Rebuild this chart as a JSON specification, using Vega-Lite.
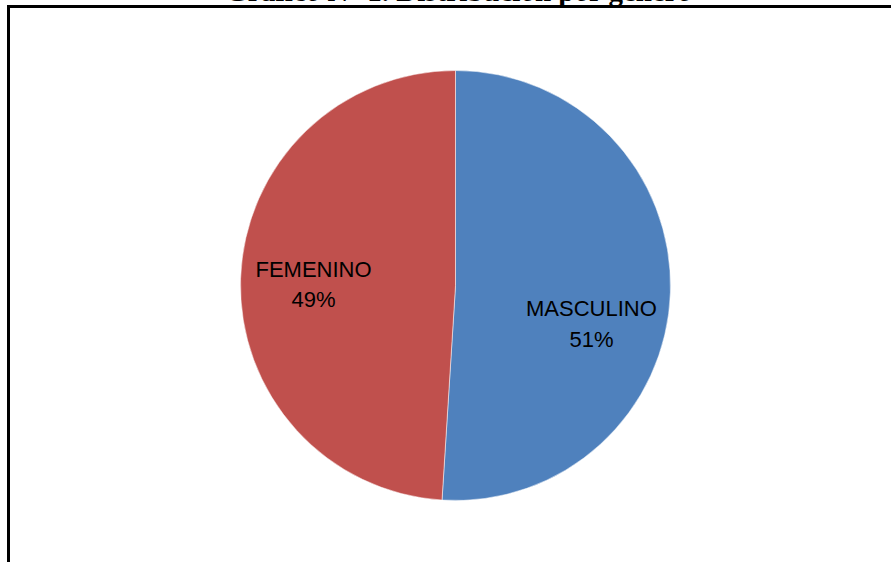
{
  "$schema": "https://vega.github.io/schema/vega-lite/v6.json",
  "autosize": {"type": "none"},
  "width": 894,
  "height": 558,
  "padding": {"left": 8.5, "top": 6.5, "right": 0, "bottom": 0},
  "background": "white",
  "title": {
    "text": "Gráfico N° 1. Distribución por género",
    "font": "Liberation Serif",
    "fontSize": 29,
    "fontWeight": "bold",
    "color": "black",
    "anchor": "middle",
    "baseline": "alphabetic",
    "offset": -23,
    "dx": 3,
    "zindex": 1
  },
  "view": {"stroke": "black", "strokeWidth": 3},
  "data": {
    "values": [
      {"genero": "MASCULINO", "porcentaje": 51, "etiqueta": "MASCULINO\n51%", "orden": 1},
      {"genero": "FEMENINO", "porcentaje": 49, "etiqueta": "FEMENINO\n49%", "orden": 2}
    ]
  },
  "encoding": {
    "theta": {"field": "porcentaje", "type": "quantitative", "stack": true},
    "order": {"field": "orden", "type": "quantitative"}
  },
  "layer": [
    {
      "mark": {"type": "arc", "outerRadius": 215, "stroke": "white", "strokeWidth": 0.5},
      "encoding": {
        "color": {
          "field": "genero",
          "type": "nominal",
          "scale": {"domain": ["MASCULINO", "FEMENINO"], "range": ["#4F81BD", "#C0504D"]},
          "legend": null
        }
      }
    },
    {
      "mark": {"type": "text", "radius": 136, "dy": 19, "font": "Liberation Sans", "fontSize": 22, "lineBreak": "\n", "lineHeight": 31, "color": "black", "align": "center", "baseline": "middle"},
      "encoding": {
        "text": {"condition": {"test": "datum.genero === 'MASCULINO'", "field": "etiqueta"}, "value": ""}
      }
    },
    {
      "mark": {"type": "text", "radius": 136, "dx": -6, "dy": -11, "font": "Liberation Sans", "fontSize": 22, "lineBreak": "\n", "lineHeight": 30, "color": "black", "align": "center", "baseline": "middle"},
      "encoding": {
        "text": {"condition": {"test": "datum.genero === 'FEMENINO'", "field": "etiqueta"}, "value": ""}
      }
    }
  ]
}
